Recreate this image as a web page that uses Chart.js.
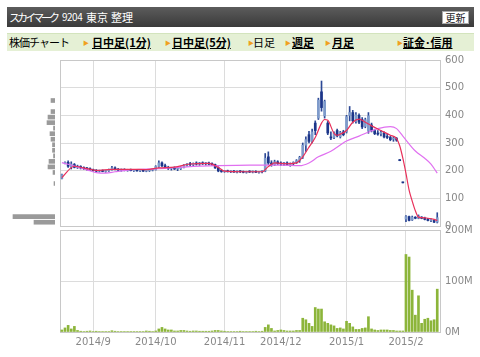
<!DOCTYPE html>
<html>
<head>
<meta charset="utf-8">
<script src="https://cdn.jsdelivr.net/npm/chart.js@4/dist/chart.umd.min.js"></script>
<style>
  body { margin: 0; background: #fff; width: 480px; height: 357px; overflow: hidden; position: relative; font-family: "Noto Sans CJK JP", sans-serif; }
  #head { position: absolute; left: 7px; top: 7px; width: 467px; height: 20px; background: linear-gradient(#5c5c5c, #3a3a3a); color: #fff; font-size: 11px; line-height: 20px; }
  #head span { position: absolute; top: 0; white-space: nowrap; }
  #head .btn { left: 435px; top: 4px; width: 25px; height: 11px; background: #fff; color: #222; font-size: 10px; line-height: 11px; text-align: center; border: 1px solid #aaa; }
  #nav { position: absolute; left: 7px; top: 33px; width: 467px; height: 17px; background: #e5f0d5; border-top: 1px solid #d3e4bd; font-size: 11px; line-height: 17px; color: #000; }
  #nav span { position: absolute; top: 0; white-space: nowrap; }
  #nav .a { font-weight: bold; text-decoration: underline; }
  #nav .m { color: #f0a020; font-size: 6px; }
  canvas { position: absolute; }
</style>
</head>
<body>
<div id="head">
  <span style="left:2px;letter-spacing:-3px">スカイマーク</span>
  <span style="left:55px;font-size:10px;letter-spacing:-0.5px">9204</span>
  <span style="left:79px">東京</span>
  <span style="left:104px">整理</span>
  <span class="btn">更新</span>
</div>
<div id="nav">
  <span style="left:2px;letter-spacing:-1px">株価チャート</span>
  <span class="m" style="left:76px">▶</span><span class="a" style="left:85px">日中足(1分)</span>
  <span class="m" style="left:158px">▶</span><span class="a" style="left:165px">日中足(5分)</span>
  <span class="m" style="left:241px">▶</span><span style="left:246px">日足</span>
  <span class="m" style="left:278px">▶</span><span class="a" style="left:285px">週足</span>
  <span class="m" style="left:318px">▶</span><span class="a" style="left:325px">月足</span>
  <span class="m" style="left:390px">▶</span><span class="a" style="left:396px">証金･信用</span>
</div>
<canvas id="profile" width="60" height="180" style="left:0;top:50px"></canvas>
<canvas id="volume" width="420" height="136" style="left:60px;top:220px"></canvas>
<canvas id="price" width="420" height="186" style="left:60px;top:50px"></canvas>
<script>
// trading days from 2014/8/18 (index 0) to 2015/2/17 (index 120)
var monthIdx = [10, 30, 52, 70, 91, 110];
var monthLabels = ["2014/9", "2014/10", "2014/11", "2014/12", "2015/1", "2015/2"];

var opens = [172,226,230,214,222,212,215,210,208,206,
  204,200,198,200,197,199,204,210,205,202,204,201,203,200,202,199,201,198,200,202,
  204,215,228,218,212,208,210,206,207,212,220,224,222,226,224,228,225,227,224,222,210,199,
  197,198,196,197,195,197,196,194,196,195,197,194,196,198,250,228,222,232,
  226,224,228,222,226,230,236,250,292,330,306,372,390,485,398,372,322,320,345,322,340,
  340,400,410,378,400,385,360,345,365,345,336,334,336,322,320,314,316,240,159,
  25,34,22,30,28,32,28,24,20,20,14];
var highs = [188,232,236,232,226,220,218,214,212,210,
  206,204,202,203,201,206,216,214,208,206,207,205,206,204,205,203,204,202,204,206,
  218,236,232,224,216,212,214,210,214,222,226,230,228,232,230,232,230,231,228,224,214,203,
  201,202,200,201,199,200,199,198,200,199,200,198,200,262,268,236,238,236,
  232,230,232,228,232,240,252,300,322,342,350,380,462,524,455,378,340,340,350,342,346,
  400,432,418,410,405,392,390,410,372,350,345,344,340,332,324,322,320,240,159,
  38,36,36,34,40,34,32,28,26,22,48];
var lows = [170,224,212,206,210,208,206,204,202,200,
  198,196,195,196,194,197,202,203,200,198,199,198,199,197,198,196,197,196,197,199,
  202,212,214,208,204,202,204,200,204,210,216,218,218,220,219,222,220,221,218,208,196,194,
  194,195,193,194,192,193,192,191,193,192,193,191,192,196,222,216,218,222,
  218,218,220,216,220,226,230,244,270,300,300,330,385,415,390,330,312,316,322,318,326,
  336,380,372,372,370,352,355,335,340,330,328,326,318,316,308,306,306,236,156,
  16,18,20,26,26,26,22,18,16,12,11];
var closes = [186,229,216,224,212,216,210,208,206,204,
  200,198,200,197,199,204,210,205,202,204,201,203,200,202,199,201,198,200,202,204,
  215,228,218,212,208,210,206,207,212,220,224,222,226,224,228,225,227,224,222,210,199,197,
  198,196,197,195,197,196,194,196,195,197,194,196,198,245,228,222,232,226,
  224,228,222,226,230,236,248,292,312,306,340,345,455,428,450,336,318,336,326,338,330,
  395,410,380,402,375,358,384,398,346,334,332,338,322,320,312,318,310,236,156,
  34,20,32,28,36,28,24,20,22,14,30];
// volume, million shares
var volumes = [4,8,13,6,11,3,1.5,1,1.5,2,
  1,1.5,1,1,1,1,2.5,1.5,1,1,1,1,1,1,1,1,1,2,1.5,1,
  2,6,9,6,4,4,2,2,3,3,2,1.5,2,2,1.5,1.5,1.5,1.5,2,3,3,2,
  1.5,1,1,1,1,1.5,1,1,1,1,1.5,1,1.5,9,14,7,2,3,
  4,3,2,2,2,3,3,27,24,17,11,48,45,45,20,17,14,12,7,8,6,
  21,17,10,5,5,7,8,30,6,4,3,4,4,4,3,3,2,2,2,
  152,147,82,33,71,17,25,27,22,24,84];

// moving averages (day index, price)
var maShortDay = [0,3,4,7,11,16,22,27,31,36,41,47,50,52,58,64,66,68,72,75,77,79,81,83,84,85,87,88,89,91,93,95,97,99,102,105,107,108,109,110,111,112,113,114,115,117,119,120];
var maShortVal = [175,211,216,210,201,205,205,204,210,213,224,226,212,198,196,196,215,228,225,228,250,285,320,372,385,382,335,328,332,345,375,386,375,362,345,328,316,290,245,190,130,90,55,32,30,28,24,20];
var maLongDay = [0,4,8,11,14,17,21,27,31,40,50,60,70,76,79,82,86,91,95,98,101,105,107,109,113,116,118,120];
var maLongVal = [229,217,203,193,191,196,202,206,207,214,218,220,220,218,228,250,270,307,325,340,352,359,352,325,271,245,224,191];

// volume by price (left side)
var profileLevels = [10,30,150,190,210,230,250,270,290,310,330,350,370,390,410,450];
var profileVolume = [21,42,1,2,7,6,1.5,2.5,2.5,4,5,1.5,8,7,4,4];

var tickFont = { family: "DejaVu Sans", size: 10 };
var tickColor = "#888";

// light gray frame round the plot area
var frame = {
  id: "frame",
  beforeDatasetsDraw: function (chart) {
    var a = chart.chartArea, c = chart.ctx;
    c.save();
    c.strokeStyle = "#c8c8c8";
    c.lineWidth = 1;
    c.strokeRect(Math.round(a.left) + 0.5, Math.round(a.top) + 0.5, Math.round(a.right - a.left) - 1, Math.round(a.bottom - a.top));
    c.restore();
  }
};

function monthTicks(scale) {
  scale.ticks = monthIdx.map(function (v) { return { value: v }; });
}

var wicks = [], bodies = [], volData = [], shortPts = [], longPts = [], profPts = [];
for (var i = 0; i < opens.length; i++) {
  wicks.push({ x: i, y: [lows[i], highs[i]] });
  bodies.push({ x: i, y: [opens[i], closes[i]] });
  volData.push({ x: i, y: volumes[i] });
}
maShortDay.forEach(function (d, k) { shortPts.push({ x: d, y: maShortVal[k] }); });
maLongDay.forEach(function (d, k) { longPts.push({ x: d, y: maLongVal[k] }); });
profileLevels.forEach(function (p, k) { profPts.push({ y: p, x: profileVolume[k] }); });

new Chart(document.getElementById("price"), {
  type: "bar",
  data: {
    datasets: [
      { type: "line", data: shortPts, borderColor: "#e8305a", borderWidth: 1.2, pointRadius: 0, cubicInterpolationMode: "monotone", order: 0 },
      { type: "line", data: longPts, borderColor: "#e070f0", borderWidth: 1.2, pointRadius: 0, cubicInterpolationMode: "monotone", order: 0 },
      { data: wicks, backgroundColor: "#2c4896", barThickness: 1, grouped: false, order: 2 },
      {
        data: bodies, barThickness: 2, minBarLength: 1, grouped: false, order: 1,
        backgroundColor: function (ctx) {
          var i = ctx.dataIndex;
          return closes[i] >= opens[i] ? "#7e9bcb" : "#1c3589";
        }
      }
    ]
  },
  options: {
    responsive: false,
    animation: false,
    layout: { padding: { top: 9, bottom: 5, left: 0, right: 0 } },
    plugins: { legend: { display: false }, tooltip: { enabled: false } },
    scales: {
      x: {
        type: "linear", min: -0.6, max: 121.2, offset: false,
        afterBuildTicks: monthTicks,
        ticks: { display: false },
        grid: { color: "#dcdcdc", drawTicks: false, offset: false },
        border: { display: false }
      },
      y: {
        position: "right", min: 0, max: 600,
        ticks: { stepSize: 100, color: tickColor, font: tickFont, padding: 4 },
        grid: { color: "#dcdcdc", drawTicks: false },
        border: { display: false },
        afterFit: function (s) { s.width = 39; }
      }
    }
  },
  plugins: [frame]
});

new Chart(document.getElementById("volume"), {
  type: "bar",
  data: {
    datasets: [{ data: volData, backgroundColor: "#8cb53a", barThickness: 2 }]
  },
  options: {
    responsive: false,
    animation: false,
    layout: { padding: { top: 5, bottom: 4, left: 0, right: 0 } },
    plugins: { legend: { display: false }, tooltip: { enabled: false } },
    scales: {
      x: {
        type: "linear", min: -0.6, max: 121.2, offset: false,
        afterBuildTicks: monthTicks,
        ticks: {
          color: tickColor, font: tickFont, padding: 4, maxRotation: 0, autoSkip: false,
          callback: function (v) { return monthLabels[monthIdx.indexOf(v)]; }
        },
        grid: { color: "#dcdcdc", drawTicks: false, offset: false },
        border: { display: false }
      },
      y: {
        position: "right", min: 0, max: 200,
        ticks: { stepSize: 100, color: tickColor, font: tickFont, padding: 4, callback: function (v) { return v + "M"; } },
        grid: { color: "#dcdcdc", drawTicks: false },
        border: { display: false },
        afterFit: function (s) { s.width = 39; }
      }
    }
  },
  plugins: [frame]
});

new Chart(document.getElementById("profile"), {
  type: "bar",
  data: {
    datasets: [{ data: profPts, backgroundColor: "#9a9a9a", barThickness: 4 }]
  },
  options: {
    indexAxis: "y",
    responsive: false,
    animation: false,
    layout: { padding: { top: 9, bottom: 5, left: 0, right: 5 } },
    plugins: { legend: { display: false }, tooltip: { enabled: false } },
    scales: {
      y: { type: "linear", min: 0, max: 600, offset: false, display: false },
      x: { min: 0, max: 55, reverse: true, display: false }
    }
  }
});
</script>
</body>
</html>
